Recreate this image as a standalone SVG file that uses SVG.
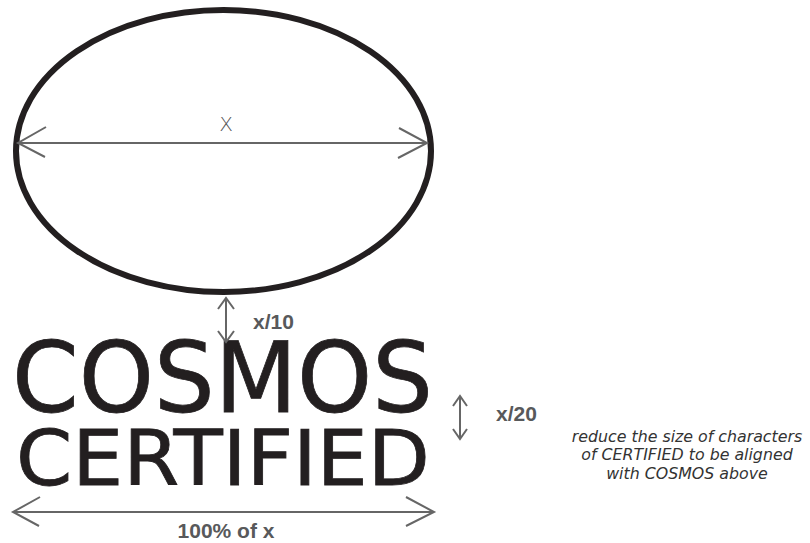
<svg xmlns="http://www.w3.org/2000/svg" width="810" height="543" viewBox="0 0 810 543">
<style>
.dim{stroke:#666;stroke-width:2;fill:none}
.lbl{font-family:"Liberation Sans",Arial,sans-serif;font-weight:bold;fill:#58595b;font-size:21px}
.logo{font-family:"DejaVu Sans",Verdana,sans-serif;fill:#231f20;stroke:#231f20;stroke-width:0.8}
.note{font-family:"DejaVu Sans",Verdana,sans-serif;font-style:italic;font-size:15.8px;fill:#333;text-anchor:middle}
</style>
<rect width="810" height="543" fill="#fff"/>
<g id="ellipse">
<ellipse cx="223.5" cy="151" rx="207.5" ry="141" fill="none" stroke="#231f20" stroke-width="6"/>
</g>
<g id="logo-text">
<text class="logo" x="12" y="412" font-size="98" textLength="421" lengthAdjust="spacingAndGlyphs">COSMOS</text>
<text class="logo" x="16" y="485" font-size="77" textLength="414" lengthAdjust="spacingAndGlyphs">CERTIFIED</text>
</g>
<g id="connectors">
<path class="dim" d="M18 143H427M46 127L18 143L45 157M399 128L427 143L398 158"/>
<path class="dim" d="M226 298V342M218 309L226 298L234 309M218 331L226 342L234 331"/>
<path class="dim" d="M460 396V439M453 406L460 396L467 406M453 429L460 439L467 429"/>
<path class="dim" d="M13 512H434M40 497L13 512L39 526M406 497L434 512L406 526"/>
</g>
<g id="labels">
<text x="226" y="131" font-family="'DejaVu Sans',sans-serif" font-size="20" font-weight="300" fill="#555" text-anchor="middle">X</text>
<text class="lbl" x="253" y="329">x/10</text>
<text class="lbl" x="496" y="421">x/20</text>
<text class="lbl" x="226" y="538" text-anchor="middle">100% of x</text>
</g>
<g id="note">
<text class="note" x="687" y="442">reduce the size of characters</text>
<text class="note" x="687" y="460">of CERTIFIED to be aligned</text>
<text class="note" x="687" y="479">with COSMOS above</text>
</g>
</svg>
